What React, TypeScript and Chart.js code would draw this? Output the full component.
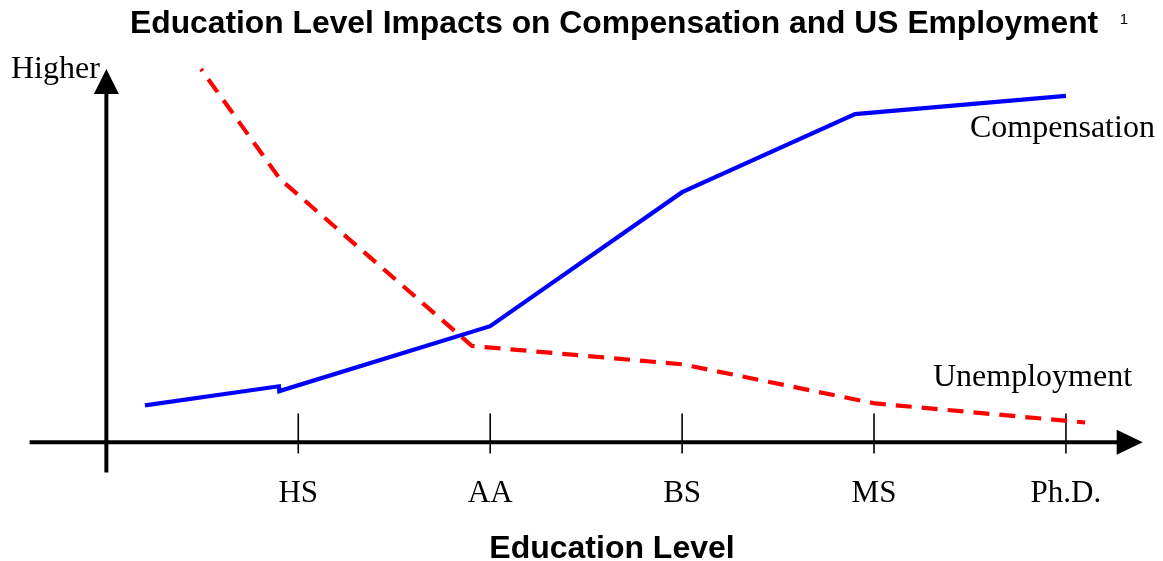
import React, { useEffect, useRef } from "react";
import { Chart, registerables } from "chart.js";

Chart.register(...registerables);

const chartTitle = "Education Level Impacts on Compensation and US Employment";
const footnoteMark = "1";
const xAxisTitle = "Education Level";
const yAxisLabel = "Higher";
const categories = ["HS", "AA", "BS", "MS", "Ph.D."];
const tickPositions = [1, 2, 3, 4, 5];
const seriesNames = ["Compensation", "Unemployment"];
const compensationX = [0.201, 0.899, 0.901, 2.0, 3.0, 3.901, 5.0];
const compensationY = [9.9, 15.0, 13.7, 31.1, 67.0, 87.9, 92.8];
const unemploymentX = [0.493, 0.905, 1.905, 3.0, 4.005, 5.1];
const unemploymentY = [100, 70.5, 25.8, 20.9, 10.4, 5.3];

const SERIF = '"Liberation Serif", "Times New Roman", Times, serif';
const SANS = '"Liberation Sans", Arial, Helvetica, sans-serif';

const axesPlugin = {
  id: "conceptAxes",
  beforeDatasetsDraw(chart: any) {
    const { ctx, chartArea, scales } = chart;
    const xs = scales.x;
    const ys = scales.y;
    const y0 = ys.getPixelForValue(0);
    const x0 = xs.getPixelForValue(0);
    ctx.save();
    ctx.strokeStyle = "#000";
    ctx.fillStyle = "#000";
    ctx.lineCap = "butt";
    // x axis
    ctx.lineWidth = 4;
    ctx.beginPath();
    ctx.moveTo(chartArea.left, y0);
    ctx.lineTo(chartArea.right - 24, y0);
    ctx.stroke();
    ctx.beginPath();
    ctx.moveTo(chartArea.right, y0);
    ctx.lineTo(chartArea.right - 26, y0 - 12.5);
    ctx.lineTo(chartArea.right - 26, y0 + 12.5);
    ctx.closePath();
    ctx.fill();
    // y axis
    ctx.beginPath();
    ctx.moveTo(x0, chartArea.bottom);
    ctx.lineTo(x0, chartArea.top + 23);
    ctx.stroke();
    ctx.beginPath();
    ctx.moveTo(x0, chartArea.top);
    ctx.lineTo(x0 - 12.5, chartArea.top + 25);
    ctx.lineTo(x0 + 12.5, chartArea.top + 25);
    ctx.closePath();
    ctx.fill();
    // tick marks
    ctx.lineWidth = 1.6;
    tickPositions.forEach((v) => {
      const px = xs.getPixelForValue(v);
      ctx.beginPath();
      ctx.moveTo(px, y0 - 28.8);
      ctx.lineTo(px, y0 + 11.2);
      ctx.stroke();
    });
    ctx.restore();
  },
  afterDraw(chart: any) {
    const { ctx } = chart;
    ctx.save();
    ctx.fillStyle = "#000";
    ctx.textBaseline = "alphabetic";
    // title
    ctx.font = `bold 31.8px ${SANS}`;
    ctx.textAlign = "left";
    ctx.fillText(chartTitle, 130, 33);
    ctx.font = `15px ${SANS}`;
    ctx.textAlign = "center";
    ctx.fillText(footnoteMark, 1124, 24);
    // axis title
    ctx.font = `bold 32px ${SANS}`;
    ctx.fillText(xAxisTitle, 612, 558);
    // serif annotations
    ctx.font = `32px ${SERIF}`;
    ctx.textAlign = "left";
    ctx.fillText(yAxisLabel, 11, 78);
    ctx.fillText(seriesNames[0], 970, 137);
    ctx.fillText(seriesNames[1], 933, 386);
    ctx.restore();
  },
};

export default function App() {
  const canvasRef = useRef<HTMLCanvasElement | null>(null);

  useEffect(() => {
    if (!canvasRef.current) return;
    const chart = new Chart(canvasRef.current, {
      type: "line",
      data: {
        datasets: [
          {
            label: seriesNames[0],
            data: compensationX.map((x, i) => ({ x, y: compensationY[i] })),
            borderColor: "#0000FF",
            borderWidth: 4.2,
            pointRadius: 0,
            tension: 0,
            fill: false,
            clip: false,
            borderJoinStyle: "miter",
          },
          {
            label: seriesNames[1],
            data: unemploymentX.map((x, i) => ({ x, y: unemploymentY[i] })),
            borderColor: "#FF0000",
            borderWidth: 4.2,
            borderDash: [16, 10],
            borderDashOffset: 13.5,
            pointRadius: 0,
            tension: 0,
            fill: false,
            clip: false,
            borderJoinStyle: "miter",
          },
        ],
      },
      options: {
        animation: false,
        responsive: false,
        devicePixelRatio: 1,
        layout: { padding: { left: 29.6, right: 20.3, top: 69, bottom: 45.5 } },
        plugins: {
          legend: { display: false },
          title: { display: false },
          tooltip: { enabled: false },
        },
        scales: {
          x: {
            type: "linear",
            min: -0.4,
            max: 5.4,
            grid: { display: false, drawTicks: false },
            border: { display: false },
            afterBuildTicks: (scale: any) => {
              scale.ticks = tickPositions.map((v) => ({ value: v }));
            },
            ticks: {
              autoSkip: false,
              maxRotation: 0,
              padding: 6,
              color: "#000",
              font: { family: SERIF, size: 31, lineHeight: 1 },
              callback: (value: any) => {
                const i = tickPositions.indexOf(Number(value));
                return i >= 0 ? categories[i] : "";
              },
            },
          },
          y: {
            type: "linear",
            display: false,
            min: -8.1,
            max: 100,
          },
        },
      },
      plugins: [axesPlugin],
    } as any);
    return () => chart.destroy();
  }, []);

  return (
    <div style={{ position: "absolute", left: 0, top: 0, width: 1163, height: 561, background: "#fff" }}>
      <canvas ref={canvasRef} width={1163} height={561} />
    </div>
  );
}
